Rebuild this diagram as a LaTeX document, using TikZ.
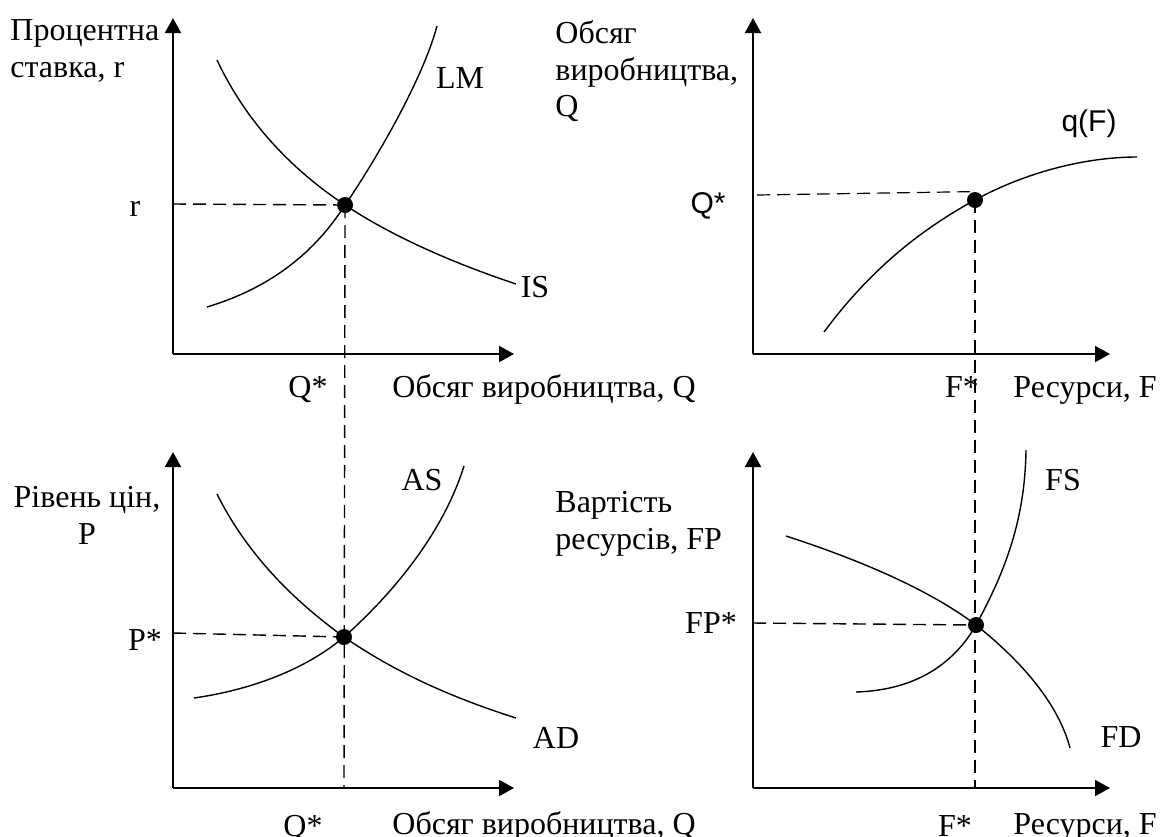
\documentclass[tikz,border=0pt]{standalone}
\usepackage{fontspec}
\setmainfont{Liberation Serif}
\newfontfamily\arialf{Liberation Sans}
\usetikzlibrary{arrows.meta}
\begin{document}
\begin{tikzpicture}[x=0.5pt,y=-0.5pt,
  axis/.style={line width=1pt,-{Triangle[length=7.5pt,width=8pt]}},
  curve/.style={line width=0.7pt},
  guide/.style={line width=0.7pt,dash pattern=on 6.5pt off 3.5pt},
  eqdot/.style={circle,fill=black,inner sep=0pt,minimum size=8pt},
  lbl/.style={inner sep=0pt,font=\fontsize{16pt}{18.4pt}\selectfont},
  sflbl/.style={inner sep=0pt,font=\arialf\fontsize{15pt}{18pt}\selectfont},
]
\useasboundingbox (0,0) rectangle (1160,836);

% ---------- top-left: IS-LM ----------
\coordinate (o1) at (173,354);
\coordinate (y1) at (173,18);
\coordinate (x1) at (514,354);
\coordinate (r1) at (173,204);
\node[eqdot] (e1) at (345,205) {};
\draw[axis] (o1) -- (y1);
\draw[axis] (o1) -- (x1);
\draw[curve] (207,307) .. controls (280,285) and (320,244) .. (e1.center)
  .. controls (372,166) and (422,82) .. (437,26);
\draw[curve] (217,60) .. controls (250,130) and (300,175) .. (e1.center)
  .. controls (390,235) and (450,262) .. (516,284);
\draw[guide] (r1) -- (e1.center);
\node[lbl,anchor=north west,align=left] (ylab1) at (10,19) {Процентна\\ставка, r};
\node[lbl,anchor=base] (lm) at (460,88) {LM};
\node[lbl,anchor=base] (is) at (535,297) {IS};
\node[lbl,anchor=base] (rlab) at (135,216) {r};
\node[lbl,anchor=base] (q1) at (308,397) {Q*};
\node[lbl,anchor=base west] (xlab1) at (392,397) {Обсяг виробництва, Q};

% ---------- top-right: production function ----------
\coordinate (o2) at (753,354);
\coordinate (y2) at (753,18);
\coordinate (x2) at (1110,354);
\coordinate (qs2) at (757,195);
\node[eqdot] (e2) at (975,200) {};
\draw[axis] (o2) -- (y2);
\draw[axis] (o2) -- (x2);
\draw[curve] (824,332) .. controls (870,270) and (920,230) .. (e2.center)
  .. controls (1030,170) and (1090,157) .. (1137,157);
\draw[guide,line width=0.6pt] (qs2) -- (e2.north);
\node[lbl,anchor=north west,align=left] (ylab2) at (555,20) {Обсяг\\виробництва,\\Q};
\node[sflbl,anchor=base] (qf) at (1089,131) {q(F)};
\node[sflbl,anchor=base] (q2) at (708,213) {Q*};
\node[lbl,anchor=base] (f1) at (962,397) {F*};
\node[lbl,anchor=base west] (xlab2) at (1013,397) {Ресурси, F};

% ---------- bottom-left: AD-AS ----------
\coordinate (o3) at (173,788);
\coordinate (y3) at (173,452);
\coordinate (x3) at (514,788);
\coordinate (p3) at (173,633);
\coordinate (qb) at (344,788);
\node[eqdot] (e3) at (344,637) {};
\draw[axis] (o3) -- (y3);
\draw[axis] (o3) -- (x3);
\draw[curve] (194,698) .. controls (250,690) and (305,670) .. (e3.center)
  .. controls (390,596) and (442,536) .. (464,466);
\draw[curve] (217,494) .. controls (250,560) and (300,605) .. (e3.center)
  .. controls (395,672) and (450,697) .. (516,718);
\draw[guide] (p3) -- (e3.center);
\draw[guide] (e1.center) -- (qb);
\node[lbl,anchor=north,align=center] (ylab3) at (87,486) {Рівень цін,\\P};
\node[lbl,anchor=base] (as) at (422,490) {AS};
\node[lbl,anchor=base] (ad) at (556,748) {AD};
\node[lbl,anchor=base] (pstar) at (145,650) {P*};
\node[lbl,anchor=base] (q3) at (303,836) {Q*};
\node[lbl,anchor=base west] (xlab3) at (392,834) {Обсяг виробництва, Q};

% ---------- bottom-right: factor market ----------
\coordinate (o4) at (753,788);
\coordinate (y4) at (753,452);
\coordinate (x4) at (1110,788);
\coordinate (fp4) at (753,623);
\coordinate (fb) at (975,788);
\node[eqdot] (e4) at (976,625) {};
\draw[axis] (o4) -- (y4);
\draw[axis] (o4) -- (x4);
\draw[curve] (856,692) .. controls (920,690) and (956,660) .. (e4.center)
  .. controls (1005,572) and (1025,520) .. (1026,450);
\draw[curve] (786,536) .. controls (860,560) and (930,590) .. (e4.center)
  .. controls (1030,668) and (1060,710) .. (1070,748);
\draw[guide] (fp4) -- (e4.center);
\draw[guide] (e2.center) -- (fb);
\node[lbl,anchor=north west,align=left] (ylab4) at (555,491) {Вартість\\ресурсів, FP};
\node[lbl,anchor=base] (fs) at (1063,490) {FS};
\node[lbl,anchor=base] (fd) at (1121,747) {FD};
\node[lbl,anchor=base] (fpstar) at (711,633) {FP*};
\node[lbl,anchor=base] (f2) at (955,836) {F*};
\node[lbl,anchor=base west] (xlab4) at (1013,834) {Ресурси, F};
\end{tikzpicture}
\end{document}
